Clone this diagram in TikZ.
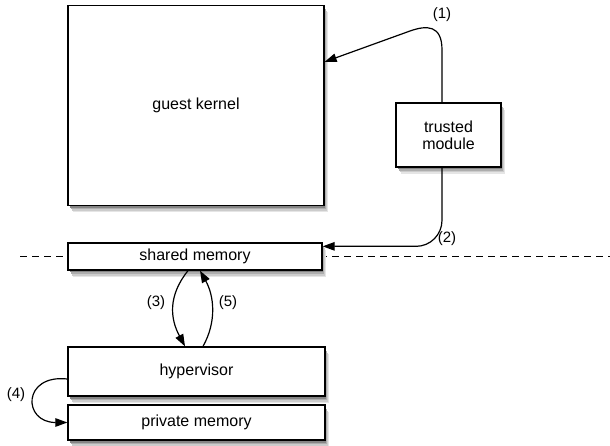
\documentclass[tikz,border=0pt]{standalone}
\usepackage{fontspec}
\setmainfont{Liberation Sans}
\usetikzlibrary{arrows.meta}

\begin{document}
\begin{tikzpicture}[x=1pt,y=-1pt,
box/.style={draw,line width=1.3pt,fill=white,inner sep=0pt,align=center,
  font=\fontsize{16}{17}\selectfont},
lbl/.style={font=\fontsize{15}{17}\selectfont},
arr/.style={line width=1.2pt,-{Triangle[length=12pt,width=8.5pt]}}]

\useasboundingbox (0,0) rectangle (610,446);

\coordinate (cutL) at (20,257);
\coordinate (cutR) at (610,257);
\draw[line width=1pt,dash pattern=on 7pt off 5pt] (cutL)--(cutR);

% shadows
\foreach \xa/\ya/\xb/\yb in {68/5.5/324/205.5,396/103/501/167,68/243/322/270,68/347/325/396,68/405/325/440}
  \foreach \d/\c in {7/10,5.5/20,4/32,2.5/48,1/65}
    \fill[black!\c] (\xa+\d*0.5+1,\ya+\d) rectangle (\xb+\d*0.5,\yb+\d);

\node[box,minimum width=256pt,minimum height=200pt] (kernel) at (196,105.5) {guest kernel};
\node[box,minimum width=105pt,minimum height=64pt] (module) at (448.5,135) {trusted\\module};
\node[box,minimum width=254pt,minimum height=27pt] (shared) at (195,256.5) {shared memory};
\node[box,minimum width=257pt,minimum height=49pt] (hyper) at (196.5,371.5) {hypervisor};
\node[box,minimum width=257pt,minimum height=35pt] (private) at (196.5,422.5) {private memory};

\draw[arr] ([xshift=-6.5pt]module.north) -- (442,50) .. controls (442,25) and (427,25) .. (410,31) -- ([yshift=-57pt]kernel.north east);
\draw[arr,rounded corners=26pt] ([xshift=-6.5pt]module.south) |- ([yshift=-4pt]shared.north east);
\draw[arr] ([xshift=-7pt]shared.south) .. controls +(-20,25) and +(-15,-28) .. ([xshift=-11.5pt]hyper.north);
\draw[arr] ([xshift=6.5pt]hyper.north) .. controls +(14,-25) and +(14,25) .. ([xshift=5pt]shared.south);
\draw[arr] ([yshift=-7.5pt]hyper.west) .. controls +(-45,-5) and +(-45,0) .. (private.west);

\node[lbl] (l1) at (442,15) {(1)};
\node[lbl] (l2) at (447,239) {(2)};
\node[lbl] (l3) at (156,303) {(3)};
\node[lbl] (l4) at (16,395) {(4)};
\node[lbl] (l5) at (228,303) {(5)};
\end{tikzpicture}
\end{document}
